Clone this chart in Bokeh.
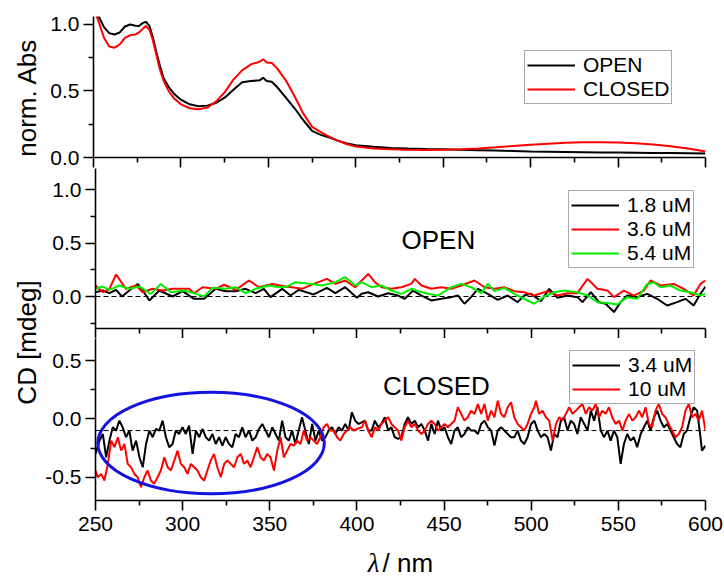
from math import pi

from bokeh.embed import file_html
from bokeh.layouts import column, row
from bokeh.models import FixedTicker, Label, Span
from bokeh.plotting import figure
from bokeh.resources import INLINE

FONT = "Liberation Sans"

# ---------------- normalised absorbance ----------------
abs_wl = [250, 253, 256, 259, 262, 265, 268, 271, 274, 276,
          278, 280, 282, 284, 286, 288, 290, 293, 296, 300,
          305, 310, 315, 320, 325, 330, 335, 340, 345, 347,
          349, 352, 355, 360, 365, 370, 375, 380, 385, 390,
          395, 400, 410, 420, 430, 440, 450, 460, 470, 480,
          490, 500, 510, 520, 530, 540, 550, 560, 570, 580,
          590, 600]
abs_open = [1.12, 1.06, 0.98, 0.935, 0.925, 0.94, 0.985, 1.0, 0.99, 0.988,
            1.01, 1.02, 0.99, 0.90, 0.79, 0.69, 0.60, 0.53, 0.48, 0.435,
            0.40, 0.385, 0.39, 0.41, 0.45, 0.51, 0.565, 0.575, 0.58, 0.60,
            0.575, 0.57, 0.53, 0.45, 0.37, 0.28, 0.20, 0.17, 0.15, 0.125,
            0.105, 0.092, 0.08, 0.072, 0.067, 0.064, 0.062, 0.058, 0.055, 0.052,
            0.049, 0.046, 0.044, 0.042, 0.040, 0.038, 0.037, 0.036, 0.034, 0.033,
            0.032, 0.030]
abs_closed = [1.12, 1.02, 0.90, 0.835, 0.825, 0.85, 0.90, 0.92, 0.925, 0.94,
              0.965, 0.99, 0.96, 0.88, 0.77, 0.66, 0.58, 0.50, 0.445, 0.40,
              0.37, 0.362, 0.375, 0.42, 0.49, 0.585, 0.655, 0.70, 0.72, 0.738,
              0.715, 0.71, 0.67, 0.58, 0.46, 0.33, 0.23, 0.19, 0.155, 0.125,
              0.10, 0.082, 0.068, 0.062, 0.058, 0.057, 0.058, 0.062, 0.068, 0.077,
              0.087, 0.096, 0.104, 0.110, 0.114, 0.115, 0.113, 0.108, 0.098, 0.085,
              0.068, 0.045]

# ---------------- CD, open form ----------------
cd_open_18_wl = [250.0, 254.2, 258.0, 261.8, 265.2, 269.4, 274.2, 277.1, 280.9, 286.6,
                 294.2, 299.9, 306.6, 312.3, 319.0, 324.7, 330.4, 336.1, 341.9, 346.6,
                 350.4, 357.1, 361.9, 366.6, 375.2, 382.8, 387.6, 393.3, 400.0, 402.7,
                 406.5, 412.2, 417.9, 423.6, 427.4, 432.2, 437.0, 442.7, 448.4, 454.1,
                 458.0, 461.7, 465.5, 469.4, 475.1, 480.8, 486.5, 492.2, 496.0, 499.9,
                 505.6, 510.3, 515.1, 520.8, 526.5, 529.4, 534.2, 538.9, 542.7, 547.5,
                 551.3, 555.1, 560.8, 566.6, 572.3, 578.0, 583.7, 588.5, 593.2, 597.1,
                 600.0]
cd_open_18 = [0.040, 0.056, 0.031, 0.062, 0.000, 0.056, 0.118, 0.056, -0.037, 0.056,
              0.000, 0.050, -0.022, -0.022, 0.072, 0.050, 0.050, 0.072, 0.031, 0.072,
              -0.006, 0.072, 0.009, 0.062, 0.019, 0.081, 0.031, 0.087, -0.012, 0.025,
              0.040, 0.000, 0.031, 0.009, -0.022, 0.056, 0.009, -0.037, -0.022, -0.006,
              0.009, -0.068, -0.006, 0.072, 0.025, -0.031, 0.009, -0.053, 0.009, 0.025,
              -0.043, 0.072, -0.012, 0.009, -0.006, -0.053, 0.040, -0.053, -0.068, -0.146,
              -0.053, 0.009, -0.006, 0.025, -0.022, -0.084, -0.053, -0.022, -0.084, 0.025,
              0.093]

cd_open_36_wl = [250.0, 254.2, 258.0, 261.8, 267.5, 273.3, 277.1, 282.8, 288.5, 294.2,
                 303.7, 306.6, 311.4, 319.0, 323.8, 330.4, 338.1, 343.8, 351.4, 359.0,
                 362.8, 368.5, 375.2, 382.8, 387.6, 393.3, 399.0, 402.7, 406.5, 410.3,
                 414.1, 419.8, 425.5, 431.2, 433.2, 437.0, 442.7, 448.4, 454.1, 459.8,
                 467.5, 473.2, 478.9, 484.6, 490.3, 496.0, 501.8, 509.4, 515.1, 520.8,
                 526.5, 532.3, 538.0, 543.7, 547.5, 553.2, 558.9, 564.7, 568.5, 574.2,
                 581.8, 587.5, 593.2, 597.1, 600.0]
cd_open_36 = [0.103, 0.040, 0.072, 0.206, 0.072, 0.103, 0.040, 0.072, 0.056, 0.072,
              0.072, 0.031, 0.087, 0.072, 0.110, 0.062, 0.150, 0.087, 0.118, 0.093,
              0.087, 0.072, 0.118, 0.165, 0.118, 0.150, 0.087, 0.150, 0.212, 0.134,
              0.087, 0.072, 0.087, 0.118, 0.165, 0.103, 0.072, 0.087, 0.072, 0.103,
              0.150, 0.087, 0.072, 0.087, 0.050, 0.040, 0.009, 0.050, 0.009, 0.031,
              0.031, 0.165, 0.072, 0.056, -0.006, 0.056, 0.009, 0.056, 0.150, 0.103,
              0.118, 0.072, 0.009, 0.118, 0.150]

cd_open_54_wl = [250.0, 254.2, 258.0, 263.7, 269.4, 275.2, 281.8, 287.5, 293.3, 300.9,
                 307.6, 312.3, 317.1, 324.7, 330.4, 336.1, 341.9, 349.5, 355.2, 360.0,
                 364.7, 374.3, 380.0, 387.6, 393.3, 399.0, 402.7, 408.4, 414.1, 419.8,
                 425.5, 431.2, 435.1, 440.8, 446.5, 454.1, 459.8, 465.5, 471.3, 475.1,
                 478.9, 484.6, 490.3, 496.0, 501.8, 507.5, 513.2, 518.9, 526.5, 532.3,
                 538.0, 543.7, 549.4, 555.1, 560.8, 566.6, 570.4, 574.2, 579.9, 585.6,
                 591.3, 597.1, 600.0]
cd_open_54 = [0.072, 0.093, 0.062, 0.103, 0.072, 0.093, 0.025, 0.118, 0.040, 0.056,
              0.025, 0.000, 0.081, 0.072, 0.087, 0.031, 0.072, 0.103, 0.087, 0.093,
              0.134, 0.118, 0.103, 0.134, 0.181, 0.103, 0.134, 0.087, 0.103, 0.056,
              0.025, 0.072, 0.050, 0.025, 0.009, 0.087, 0.118, 0.087, 0.031, 0.118,
              0.050, 0.081, 0.025, -0.022, -0.068, 0.000, 0.040, 0.056, 0.040, 0.009,
              -0.053, -0.062, -0.075, -0.006, -0.022, 0.118, 0.134, 0.087, 0.103, 0.056,
              0.040, 0.009, 0.025]

# ---------------- CD, closed form ----------------
cd_closed_34_wl = [250.0, 252.3, 254.2, 256.1, 258.0, 259.9, 261.8, 263.7, 265.6, 267.5,
                   269.4, 271.3, 273.3, 275.2, 277.1, 279.0, 280.9, 282.8, 284.7, 286.6,
                   288.5, 290.4, 292.3, 294.2, 296.1, 298.0, 299.9, 301.8, 303.7, 305.7,
                   307.6, 309.5, 311.4, 313.3, 315.2, 317.1, 319.0, 320.9, 322.8, 324.7,
                   326.6, 328.5, 330.4, 332.3, 334.2, 336.1, 338.1, 340.0, 341.9, 343.8,
                   345.7, 347.6, 349.5, 351.4, 353.3, 355.2, 357.1, 359.0, 360.9, 362.8,
                   364.7, 366.6, 368.5, 370.4, 372.4, 374.3, 376.2, 378.1, 380.0, 381.9,
                   383.8, 385.7, 387.6, 389.5, 391.4, 393.3, 395.2, 397.1, 399.0, 400.9,
                   402.8,
                   404.6, 406.5, 408.4, 410.3, 412.2, 414.1, 416.0, 417.9, 419.8, 421.7,
                   423.6, 425.5, 427.4, 429.3, 431.2, 433.2, 435.1, 437.0, 438.9, 440.8,
                   442.7, 444.6, 446.5, 448.4, 450.3, 452.2, 454.1, 456.0, 457.9, 459.8,
                   461.7, 463.6, 465.5, 467.5, 469.4, 471.3, 473.2, 475.1, 477.0, 478.9,
                   480.8, 482.7, 484.6, 486.5, 488.4, 490.3, 492.2, 494.1, 496.0, 497.9,
                   499.9, 501.8, 503.7, 505.6, 507.5, 509.4, 511.3, 513.2, 515.1, 517.0,
                   518.9, 520.8, 522.7, 524.6, 526.5, 528.4, 530.4, 532.3, 534.2, 536.1,
                   538.0, 539.9, 541.8, 543.7, 545.6, 547.5, 549.4, 551.3, 553.2, 555.1,
                   557.0, 558.9, 560.8, 562.8, 564.7, 566.6, 568.5, 570.4, 572.3, 574.2,
                   576.1, 578.0, 579.9, 581.8, 583.7, 585.6, 587.5, 589.4, 591.3, 593.2,
                   595.2, 597.1, 598.0, 600.0]
cd_closed_34 = [-0.300, -0.186, -0.129, -0.329, -0.186, -0.072, -0.100, -0.015, -0.072, -0.157,
                -0.100, -0.272, -0.186, -0.329, -0.415, -0.215, -0.100, -0.157, -0.086, -0.100,
                -0.015, -0.157, -0.243, -0.215, -0.100, -0.129, -0.072, -0.129, -0.057, -0.300,
                -0.100, -0.157, -0.086, -0.157, -0.186, -0.129, -0.215, -0.157, -0.229, -0.157,
                -0.215, -0.243, -0.129, -0.157, -0.072, -0.157, -0.100, -0.186, -0.157, -0.086,
                -0.043, -0.100, -0.157, -0.072, -0.129, -0.186, -0.015, -0.157, -0.186, -0.100,
                -0.215, -0.100, 0.014, -0.100, -0.215, -0.043, -0.186, -0.100, -0.186, -0.157,
                -0.100, -0.072, -0.129, -0.072, -0.100, -0.043, -0.100, 0.057, -0.015, -0.043,
                -0.029,
                -0.015, -0.100, -0.100, -0.015, -0.072, -0.043, 0.014, -0.100, -0.072, -0.157,
                -0.172, -0.157, -0.043, 0.014, -0.043, -0.015, -0.072, -0.043, -0.100, -0.186,
                -0.043, -0.129, -0.015, -0.100, -0.072, -0.157, -0.215, -0.100, -0.072, -0.157,
                -0.129, -0.072, -0.100, -0.100, -0.129, -0.043, -0.015, -0.072, -0.100, -0.229,
                -0.100, -0.072, -0.100, -0.129, -0.157, -0.157, -0.100, -0.186, -0.215, -0.157,
                -0.043, -0.015, -0.100, -0.157, -0.129, -0.157, -0.272, -0.129, -0.157, -0.015,
                0.014, -0.100, -0.015, -0.043, -0.129, 0.014, -0.043, -0.100, 0.071, -0.015,
                0.100, -0.100, -0.157, -0.100, -0.186, -0.100, -0.157, -0.386, -0.215, -0.129,
                -0.186, -0.157, -0.243, -0.129, -0.072, -0.015, -0.100, 0.014, 0.071, -0.015,
                -0.072, -0.043, -0.100, -0.157, -0.215, -0.243, -0.129, -0.100, 0.014, 0.100,
                0.071, -0.157, -0.272, -0.229]

cd_closed_10_wl = [250.0, 251.3, 253.2, 255.1, 257.1, 259.0, 260.9, 262.8, 264.7, 266.6,
                   268.5, 270.4, 272.3, 274.2, 276.1, 278.0, 279.9, 281.8, 283.7, 285.6,
                   287.5, 289.5, 291.4, 293.3, 295.2, 297.1, 299.0, 300.9, 302.8, 304.7,
                   306.6, 308.5, 310.4, 312.3, 314.2, 316.1, 318.0, 319.9, 321.9, 323.8,
                   325.7, 327.6, 329.5, 331.4, 333.3, 335.2, 337.1, 339.0, 340.9, 342.8,
                   344.7, 346.6, 348.5, 350.4, 352.4, 354.3, 356.2, 358.1, 360.0, 361.9,
                   363.8, 365.7, 367.6, 369.5, 371.4, 373.3, 375.2, 377.1, 379.0, 380.9,
                   382.8, 384.7, 386.6, 388.6, 390.5, 392.4, 394.3, 396.2, 398.1, 400.0,
                   402.8,
                   404.6, 406.5, 408.4, 410.3, 412.2, 414.1, 416.0, 417.9, 419.8, 421.7,
                   423.6, 425.5, 427.4, 429.3, 431.2, 433.2, 435.1, 437.0, 438.9, 440.8,
                   442.7, 444.6, 446.5, 448.4, 450.3, 452.2, 454.1, 456.0, 457.9, 459.8,
                   461.7, 463.6, 465.5, 467.5, 469.4, 471.3, 473.2, 475.1, 477.0, 478.9,
                   480.8, 482.7, 484.6, 486.5, 488.4, 490.3, 492.2, 494.1, 496.0, 497.9,
                   499.9, 501.8,
                   502.7, 504.6, 506.5, 508.4, 510.3, 512.3, 514.2, 516.1, 518.0, 519.9,
                   521.8, 523.7, 525.6, 527.5, 529.4, 531.3, 533.2, 535.1, 537.0, 538.9,
                   540.8, 542.7, 544.6, 546.5, 548.4, 550.4, 552.3, 554.2, 556.1, 558.0,
                   559.9, 561.8, 563.7, 565.6, 567.5, 569.4, 571.3, 573.2, 575.1, 577.0,
                   578.9, 580.8, 582.8, 584.7, 586.6, 588.5, 590.4, 592.3, 594.2, 596.1, 598.0,
                   600.0]
cd_closed_10 = [-0.443, -0.500, -0.472, -0.529, -0.386, -0.186, -0.243, -0.157, -0.272, -0.215,
                -0.386, -0.415, -0.472, -0.500, -0.586, -0.500, -0.443, -0.529, -0.557, -0.500,
                -0.443, -0.329, -0.415, -0.443, -0.357, -0.272, -0.386, -0.415, -0.472, -0.386,
                -0.415, -0.443, -0.500, -0.529, -0.443, -0.357, -0.300, -0.415, -0.500, -0.386,
                -0.357, -0.386, -0.415, -0.329, -0.300, -0.386, -0.357, -0.415, -0.329, -0.243,
                -0.329, -0.357, -0.300, -0.329, -0.443, -0.272, -0.157, -0.329, -0.272, -0.215,
                -0.229, -0.186, -0.215, -0.100, -0.186, -0.157, -0.186, -0.215, -0.157, -0.072,
                -0.043, -0.100, -0.100, -0.157, -0.186, -0.129, -0.100, -0.072, -0.100, -0.086,
                -0.072,
                -0.015, -0.100, -0.157, -0.072, -0.100, -0.043, -0.015, 0.014, -0.043, -0.072,
                -0.100, -0.186, -0.072, -0.015, -0.072, -0.043, -0.100, -0.129, -0.100, -0.043,
                -0.015, -0.043, -0.100, -0.072, -0.043, -0.072, -0.043, -0.015, 0.100, 0.043,
                -0.015, 0.014, 0.071, 0.043, 0.128, 0.043, 0.128, -0.015, 0.071, 0.014,
                0.157, 0.043, 0.014, 0.100, 0.143, 0.014, -0.043, -0.072, -0.100, -0.043,
                0.043, 0.100,
                0.157, 0.043, 0.071, 0.014, -0.015, -0.186, -0.043, 0.014, -0.015, 0.043,
                0.100, 0.043, 0.071, 0.100, 0.128, 0.043, 0.100, 0.071, 0.128, 0.014,
                0.071, 0.043, 0.100, 0.014, -0.043, -0.015, -0.100, -0.015, 0.043, -0.015,
                0.014, 0.071, 0.014, 0.100, -0.043, -0.072, 0.071, 0.128, 0.043, 0.014,
                -0.043, -0.100, -0.157, -0.129, -0.072, 0.071, 0.128, 0.014, 0.043, -0.015, 0.071,
                -0.100]

# axis ticks
x_major = [250, 300, 350, 400, 450, 500, 550, 600]
x_minor = [275, 325, 375, 425, 475, 525, 575]
x_tick_labels = ["250", "300", "350", "400", "450", "500", "550", "600"]

# reference lines and highlighted region
open_baseline = 0.0
closed_baseline = -0.1
highlight_center = (316.3, -0.207)
highlight_size = (130.0, 0.87)

RED = "#ff0000"
GREEN = "#00ee00"
BLUE = "#1414e0"
LABEL_W = 42


def panel(width, height, y_range, top, bottom, left):
    p = figure(width=width, height=height, x_range=(250, 600), y_range=y_range,
               output_backend="svg", toolbar_location=None,
               min_border_left=left, min_border_right=19,
               min_border_top=top, min_border_bottom=bottom)
    p.grid.visible = False
    p.outline_line_color = None
    p.background_fill_color = "white"
    p.border_fill_color = "white"
    for ax in p.axis:
        ax.axis_line_width = 1.6
        ax.axis_line_color = "black"
        ax.major_tick_line_width = 1.6
        ax.minor_tick_line_width = 1.6
        ax.major_tick_out = 10
        ax.major_tick_in = 0
        ax.minor_tick_out = 5
        ax.minor_tick_in = 0
        ax.major_label_text_font = FONT
        ax.major_label_text_font_size = "21px"
        ax.major_label_text_color = "black"
        ax.major_label_standoff = 4
    p.xaxis.ticker = FixedTicker(ticks=x_major, minor_ticks=x_minor)
    return p


def ticks_only_x(p):
    # tick marks along the wavelength axis, without numbers
    p.xaxis.major_label_text_font_size = "0px"
    p.xaxis.major_label_text_color = None
    p.xaxis.major_label_standoff = 0


def style_legend(p, loc):
    lg = p.legend[0]
    lg.location = loc
    lg.label_text_font = FONT
    lg.label_text_font_size = "21px"
    lg.label_text_color = "black"
    lg.glyph_width = 48
    lg.glyph_height = 24
    lg.label_height = 24
    lg.label_standoff = 8
    lg.padding = 2
    lg.spacing = 0
    lg.margin = 0
    lg.border_line_color = "#555555"
    lg.border_line_width = 1
    lg.background_fill_color = "white"
    lg.background_fill_alpha = 1.0


def blank(width, height):
    f = figure(width=width, height=height, x_range=(0, width), y_range=(0, height),
               x_axis_type=None, y_axis_type=None, output_backend="svg",
               toolbar_location=None, min_border=0)
    f.outline_line_color = None
    return f


def side_label(height, text, y_center):
    lf = blank(LABEL_W, height)
    lf.add_layout(Label(x=26, y=y_center, text=text, angle=pi / 2,
                        text_align="center", text_baseline="middle",
                        text_font=FONT, text_font_size="26px", text_color="black"))
    return lf


# ---- top: absorbance ----
top = panel(724 - LABEL_W, 168, (0, 1.06), 16, 11, 93 - LABEL_W)
ticks_only_x(top)
top.yaxis.ticker = FixedTicker(ticks=[0, 0.5, 1.0], minor_ticks=[0.25, 0.75])
top.yaxis.major_label_overrides = {0: "0.0", 0.5: "0.5", 1: "1.0"}
top.line(abs_wl, abs_open, color="black", line_width=2, legend_label="OPEN")
top.line(abs_wl, abs_closed, color=RED, line_width=2, legend_label="CLOSED")
style_legend(top, (431, 53))

# ---- middle: CD of the open form ----
mid = panel(724 - LABEL_W, 170, (-0.3, 1.2), 0, 10, 93 - LABEL_W)
ticks_only_x(mid)
mid.yaxis.ticker = FixedTicker(ticks=[0, 0.5, 1.0], minor_ticks=[-0.25, 0.25, 0.75])
mid.yaxis.major_label_overrides = {0: "0.0", 0.5: "0.5", 1: "1.0"}
mid.add_layout(Span(location=open_baseline, dimension="width", line_color="black",
                    line_width=1, line_dash="5 3", level="underlay"))
mid.line(cd_open_18_wl, cd_open_18, color="black", line_width=2, legend_label="1.8 uM")
mid.line(cd_open_36_wl, cd_open_36, color=RED, line_width=2, legend_label="3.6 uM")
mid.line(cd_open_54_wl, cd_open_54, color=GREEN, line_width=2, legend_label="5.4 uM")
mid.add_layout(Label(x=446.7, y=0.534, text="OPEN", text_align="center",
                     text_baseline="middle", text_font=FONT, text_font_size="26px",
                     text_color="black"))
style_legend(mid, (473, 60))

# ---- bottom: CD of the closed form ----
bot = panel(724 - LABEL_W, 202, (-0.7, 0.69), 0, 40, 93 - LABEL_W)
bot.yaxis.ticker = FixedTicker(ticks=[-0.5, 0, 0.5], minor_ticks=[-0.25, 0.25])
bot.yaxis.major_label_overrides = {-0.5: "-0.5", 0: "0.0", 0.5: "0.5"}
bot.xaxis.major_label_overrides = {v: s for v, s in zip(x_major, x_tick_labels)}
bot.xaxis.major_label_standoff = 6
bot.add_layout(Span(location=closed_baseline, dimension="width", line_color="black",
                    line_width=1, line_dash="5 3", level="underlay"))
bot.line(cd_closed_34_wl, cd_closed_34, color="black", line_width=2, legend_label="3.4 uM")
bot.line(cd_closed_10_wl, cd_closed_10, color=RED, line_width=2, legend_label="10 uM")
bot.ellipse(x=[highlight_center[0]], y=[highlight_center[1]],
            width=[highlight_size[0]], height=[highlight_size[1]],
            width_units="data", height_units="data",
            fill_color=None, line_color=BLUE, line_width=3)
bot.add_layout(Label(x=445.6, y=0.28, text="CLOSED", text_align="center",
                     text_baseline="middle", text_font=FONT, text_font_size="26px",
                     text_color="black"))
style_legend(bot, (474, 96))

# ---- wavelength axis title: italic lambda followed by the unit ----
xlab = blank(724, 38)
xlab.add_layout(Label(x=379, y=16, text="λ", text_align="right",
                      text_baseline="middle", text_font="Liberation Serif",
                      text_font_style="italic", text_font_size="27px", text_color="black"))
xlab.add_layout(Label(x=382, y=16, text="/ nm", text_align="left",
                      text_baseline="middle", text_font=FONT,
                      text_font_size="26px", text_color="black"))

lab_abs = side_label(168, "norm. Abs", 71.5)
lab_cd = side_label(372, "CD [mdeg]", 198)

layout = column(row(lab_abs, top), row(lab_cd, column(mid, bot)), xlab)

open("out.html", "w").write(file_html(layout, INLINE))
